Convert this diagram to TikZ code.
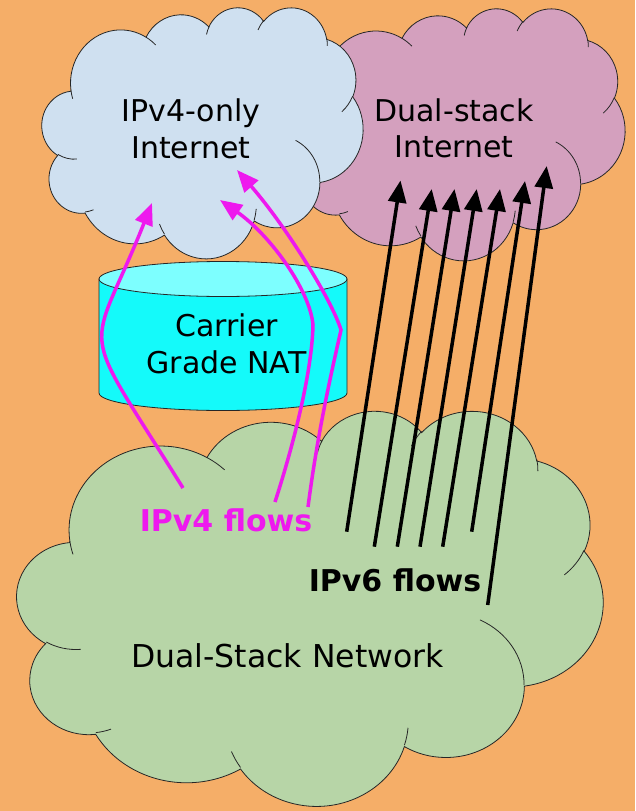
\documentclass[tikz,border=0pt]{standalone}
\usepackage{fontspec}
\setmainfont{DejaVu Sans}
\usetikzlibrary{arrows.meta}
\definecolor{bg}{RGB}{245,174,104}
\definecolor{cblue}{RGB}{207,224,240}
\definecolor{cpink}{RGB}{212,160,190}
\definecolor{cgreen}{RGB}{183,213,167}
\definecolor{cylside}{RGB}{20,250,250}
\definecolor{cyltop}{RGB}{125,255,255}
\definecolor{mag}{RGB}{238,25,238}
\tikzset{
  oo/.style n args={4}{x radius=#1, y radius=#2,
    start angle={atan2(sin(#3)/#2,cos(#3)/#1)},
    delta angle={mod(atan2(sin(#3+#4)/#2,cos(#3+#4)/#1)-atan2(sin(#3)/#2,cos(#3)/#1)+720,360)}},
  cloudline/.style={draw=black!85, line width=0.8pt},
  lbl/.style={font=\fontsize{30}{36.5}\selectfont, align=center, anchor=base, inner sep=0pt},
  flowlbl/.style={font=\fontsize{30}{36.5}\selectfont\bfseries, anchor=base, inner sep=0pt},
  v4arrow/.style={draw=mag, line width=3.5pt, -{Triangle[length=22pt,width=18pt]}},
  v6arrow/.style={draw=black, line width=3.5pt, -{Triangle[length=22pt,width=18pt]}},
}
\newcommand\drawcloud[5]{%
  \begin{scope}[shift={(#1,#2)}, x=#3pt, y=-#4pt]
    \filldraw[cloudline, fill=#5] (3.900,14.370)
      arc[oo={6.753}{9.190}{-190.48748}{123.78053}]
      arc[oo={5.333}{7.267}{-144.10238}{89.94523}]
      arc[oo={4.365}{5.945}{-145.80792}{99.72302}]
      arc[oo={4.857}{6.595}{-130.98607}{117.24173}]
      arc[oo={5.333}{7.273}{-78.70888}{109.02692}]
      arc[oo={6.775}{9.220}{-46.26725}{130.269}]
      arc[oo={5.785}{7.867}{0.62502}{114.03333}]
      arc[oo={6.752}{9.215}{22.4516}{115.17255}]
      arc[oo={7.720}{10.543}{66.24263}{75.71102}]
      arc[oo={4.360}{5.918}{-274.94208}{146.73557}]
      arc[oo={4.345}{5.945}{-246.8285}{152.51885}]
      -- cycle;
    \draw[cloudline]
      (4.693,26.177) arc[oo={4.345}{5.945}{86.742}{26.4295}]
      (6.928,34.899) arc[oo={4.360}{5.918}{73.61047}{11.44747}]
      (16.478,39.090) arc[oo={6.752}{9.215}{137.62415}{14.0811}]
      (28.827,34.751) arc[oo={6.752}{9.215}{6.45327}{15.99835}]
      (34.129,22.954) arc[oo={5.785}{7.867}{-70.29235}{70.91737}]
      (41.798,15.354) arc[oo={5.333}{7.273}{30.31803}{27.7515}]
      (38.324,5.426) arc[oo={4.857}{6.595}{-13.74433}{14.8589}]
      (29.078,3.952) arc[oo={4.857}{6.595}{-149.18145}{18.19537}]
      (22.141,4.720) arc[oo={4.365}{5.945}{-163.49427}{17.68635}]
      (14.000,5.192) arc[oo={6.753}{9.190}{-66.70695}{12.31935}]
      (4.127,15.789) arc[oo={6.753}{9.190}{157.65435}{11.85817}];
  \end{scope}}
\begin{document}
\begin{tikzpicture}[x=1pt, y=-1pt]
  \path[use as bounding box, fill=bg] (0,0) rectangle (635,811);
  % clouds
  \drawcloud{295}{8}{7.6389}{5.8333}{cpink}
  \drawcloud{42}{7}{7.4306}{5.8102}{cblue}
  % cylinder (Carrier Grade NAT)
  \filldraw[cloudline, fill=cylside] (99,279) -- (99,393)
     arc[start angle=180, end angle=0, x radius=124, y radius=17.5] -- (347,279) -- cycle;
  \filldraw[cloudline, fill=cyltop] (223,279) ellipse [x radius=124, y radius=17.5];
  \drawcloud{17}{410}{13.5648}{9.1435}{cgreen}
  % labels (base = baseline of the last line)
  \node[lbl] (v4net) at (190.8,158) {IPv4-only\\Internet};
  \node[lbl] (dsnet) at (454,157.5) {Dual-stack\\Internet};
  \node[lbl] (nat) at (226.5,373.3) {Carrier\\Grade NAT};
  \node[lbl, font=\fontsize{31.5}{36.5}\selectfont] (dsn) at (287.5,667) {Dual-Stack Network};
  \node[flowlbl, text=mag] (v4f) at (226,531.7) {IPv4 flows};
  \node[flowlbl] (v6f) at (395,591) {IPv6 flows};
  % IPv4 flows
  \coordinate (m1s) at (183,488); \coordinate (m1t) at (152,203);
  \coordinate (m2s) at (275,502); \coordinate (m2t) at (220,200);
  \coordinate (m3s) at (308,507); \coordinate (m3t) at (237,170);
  \draw[v4arrow] (m1s) .. controls (74.5,313.9) and (88.6,362.4) .. (m1t);
  \draw[v4arrow] (m2s) .. controls (295,440) and (312,370) .. (313,325)
                       .. controls (310,290) and (270,235) .. (m2t);
  \draw[v4arrow] (m3s) .. controls (318,430) and (332,370) .. (341,330)
                       .. controls (332,300) and (285,225) .. (m3t);
  % IPv6 flows
  \coordinate (b1s) at (346.7,531.7); \coordinate (b1t) at (400.5,180.5);
  \coordinate (b2s) at (374.3,546.7); \coordinate (b2t) at (431.7,189);
  \coordinate (b3s) at (397.3,546.7); \coordinate (b3t) at (454.5,189);
  \coordinate (b4s) at (420,546.7);   \coordinate (b4t) at (476.7,189);
  \coordinate (b5s) at (442.7,546.7); \coordinate (b5t) at (500,189);
  \coordinate (b6s) at (471.7,531.7); \coordinate (b6t) at (525,181);
  \coordinate (b7s) at (487.7,605);   \coordinate (b7t) at (546.7,166);
  \foreach \i in {1,...,7} {\draw[v6arrow] (b\i s) -- (b\i t);}
\end{tikzpicture}
\end{document}
